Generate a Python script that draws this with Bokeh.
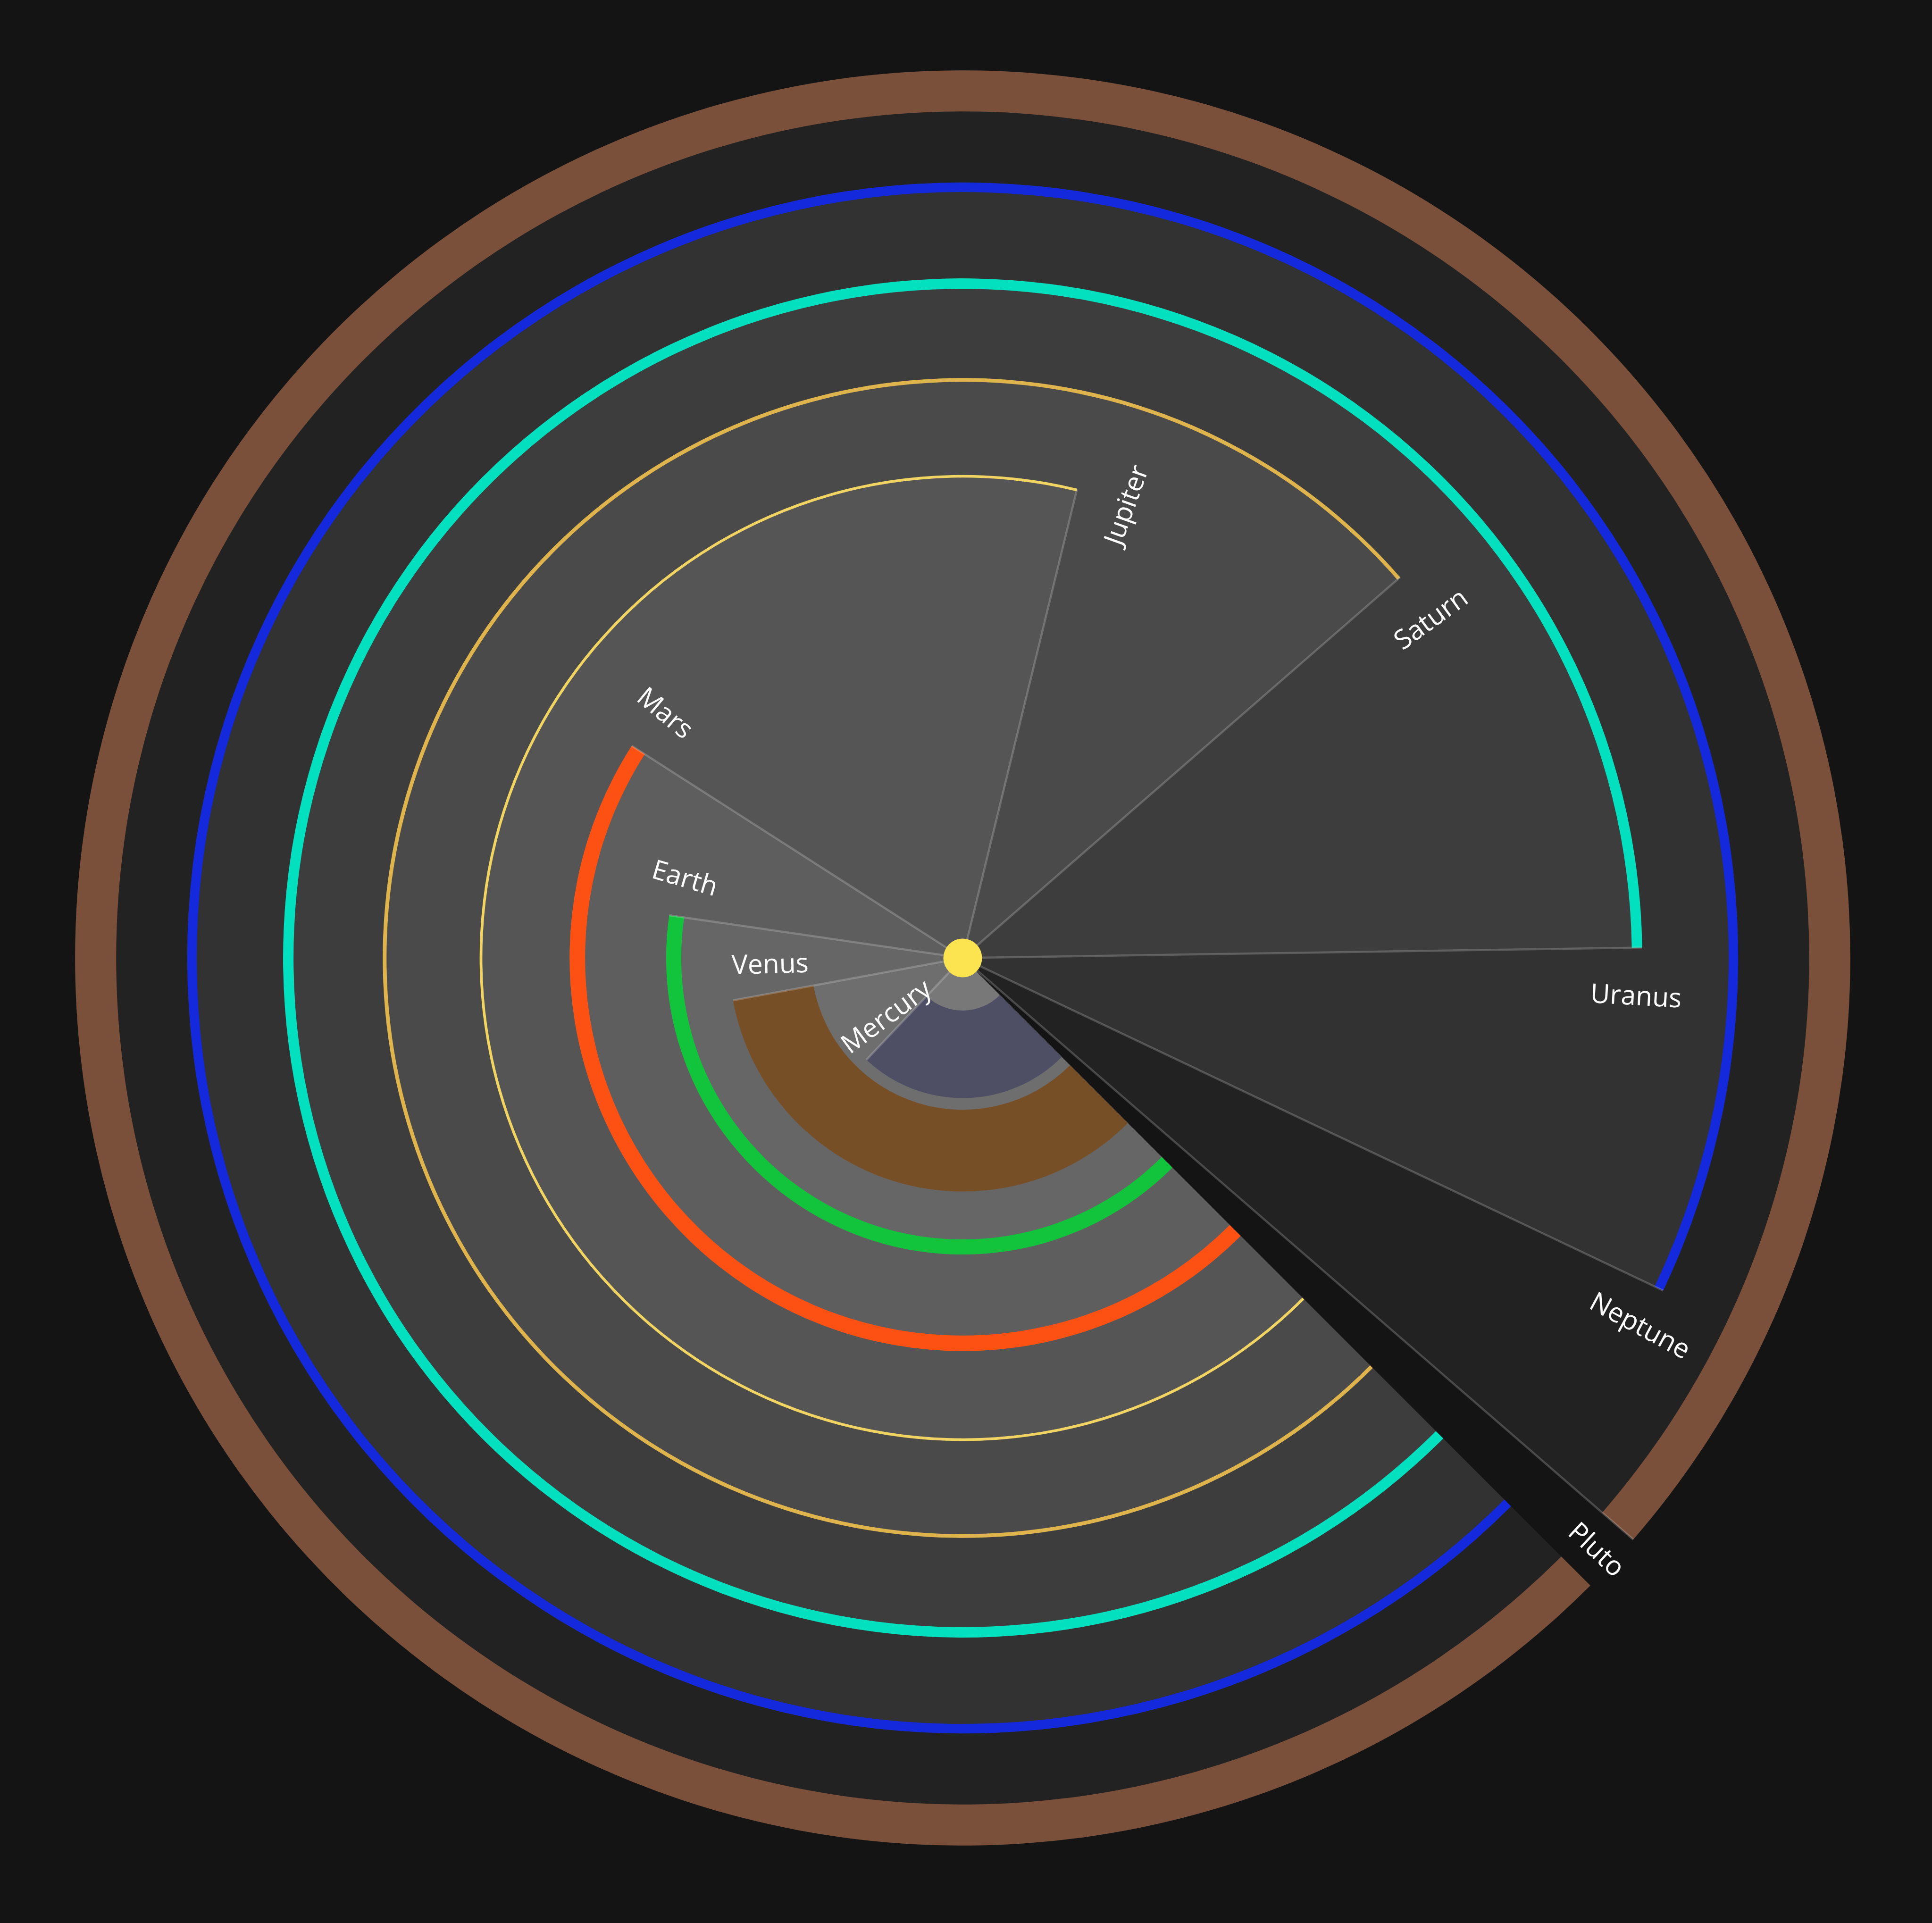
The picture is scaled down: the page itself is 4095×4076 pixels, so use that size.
import numpy as np
from bokeh.plotting import figure
from bokeh.models import ColumnDataSource
from bokeh.core.properties import value
from bokeh.embed import file_html
from bokeh.resources import INLINE

# Planet data
planets = ["Mercury", "Venus", "Earth", "Mars", "Jupiter", "Saturn", "Uranus", "Neptune", "Pluto"]
distance = [57.9, 108.2, 149.6, 228.0, 778.5, 1432.0, 2867.0, 4515.0, 5906.4]  # 10^6 km from the sun
day_hours = [4222.6, 2802.0, 24.0, 24.7, 9.9, 10.7, 17.2, 16.1, 153.3]  # length of day
ring_colors = ["#4e4e64", "#774f27", "#12c43c", "#fd5114", "#f2d462",
               "#e0b44c", "#03e0bf", "#1428dc", "#7a503b"]
fill_greys = ["#787878", "#6e6e6e", "#666666", "#5e5e5e", "#555555",
              "#4a4a4a", "#3d3d3d", "#323232", "#222222"]

# Layout (1 data unit = 1 px)
W, H = 4079, 4060
CX, CY = 2040, 2030
END = np.radians(315)          # all bars stop here
D_MIN, D_MAX = 12.57, 6336.0   # log scale for the angle
TRACK = 204.2

n = len(planets)
idx = np.arange(n)
sweep = 2 * np.pi * (np.log10(distance) - np.log10(D_MIN)) / (np.log10(D_MAX) - np.log10(D_MIN))
start = END - sweep
track = TRACK * (idx + 1)
band = 68.4 * np.log10(day_hours) - 62.4
outer = track + band / 2
inner = track - band / 2

# label positions, just clockwise of each start line
lab_ang = start - np.radians(10 - idx)
lab_x = track * np.cos(lab_ang)
lab_y = track * np.sin(lab_ang)
txt_ang = np.where(np.cos(lab_ang) < 0, lab_ang + np.pi, lab_ang)

src = ColumnDataSource(dict(
    name=planets, start=start, end=np.full(n, END), outer=outer, inner=inner,
    fill=fill_greys, ring=ring_colors,
    x1=outer * np.cos(start), y1=outer * np.sin(start),
    lx=lab_x, ly=lab_y, ta=txt_ang,
))
# outermost first, so the inner ones sit on top
order = list(range(n))[::-1]
src.data = {k: [v[i] for i in order] for k, v in src.data.items()}

p = figure(
    width=W, height=H,
    x_range=(-CX, W - CX), y_range=(CY - H, CY),
    x_axis_type=None, y_axis_type=None,
    toolbar_location=None, output_backend="svg",
    min_border=0, background_fill_color="#141414",
    border_fill_color="#141414", outline_line_color=None,
)
p.grid.visible = False

p.wedge(0, 0, radius="outer", start_angle="start", end_angle="end",
        direction="anticlock", fill_color="fill", line_color=None, source=src)
p.annular_wedge(0, 0, inner_radius="inner", outer_radius="outer",
                start_angle="start", end_angle="end", direction="anticlock",
                fill_color="ring", line_color=None, source=src)
p.segment(0, 0, "x1", "y1", line_color="white", line_alpha=0.2,
          line_width=4.5, source=src)

# the sun
p.circle(0, 0, radius=41, fill_color="#fbe44f", line_color=None)

p.text("lx", "ly", text="name", angle="ta", source=src,
       text_color="white", text_font=value("Open Sans"), text_font_size="57px",
       text_align="center", text_baseline="middle")

html = file_html(p, INLINE, title="Planets")
html = html.replace("</head>", "<style>html, body {background: #141414;}</style>\n</head>", 1)
open("out.html", "w").write(html)
